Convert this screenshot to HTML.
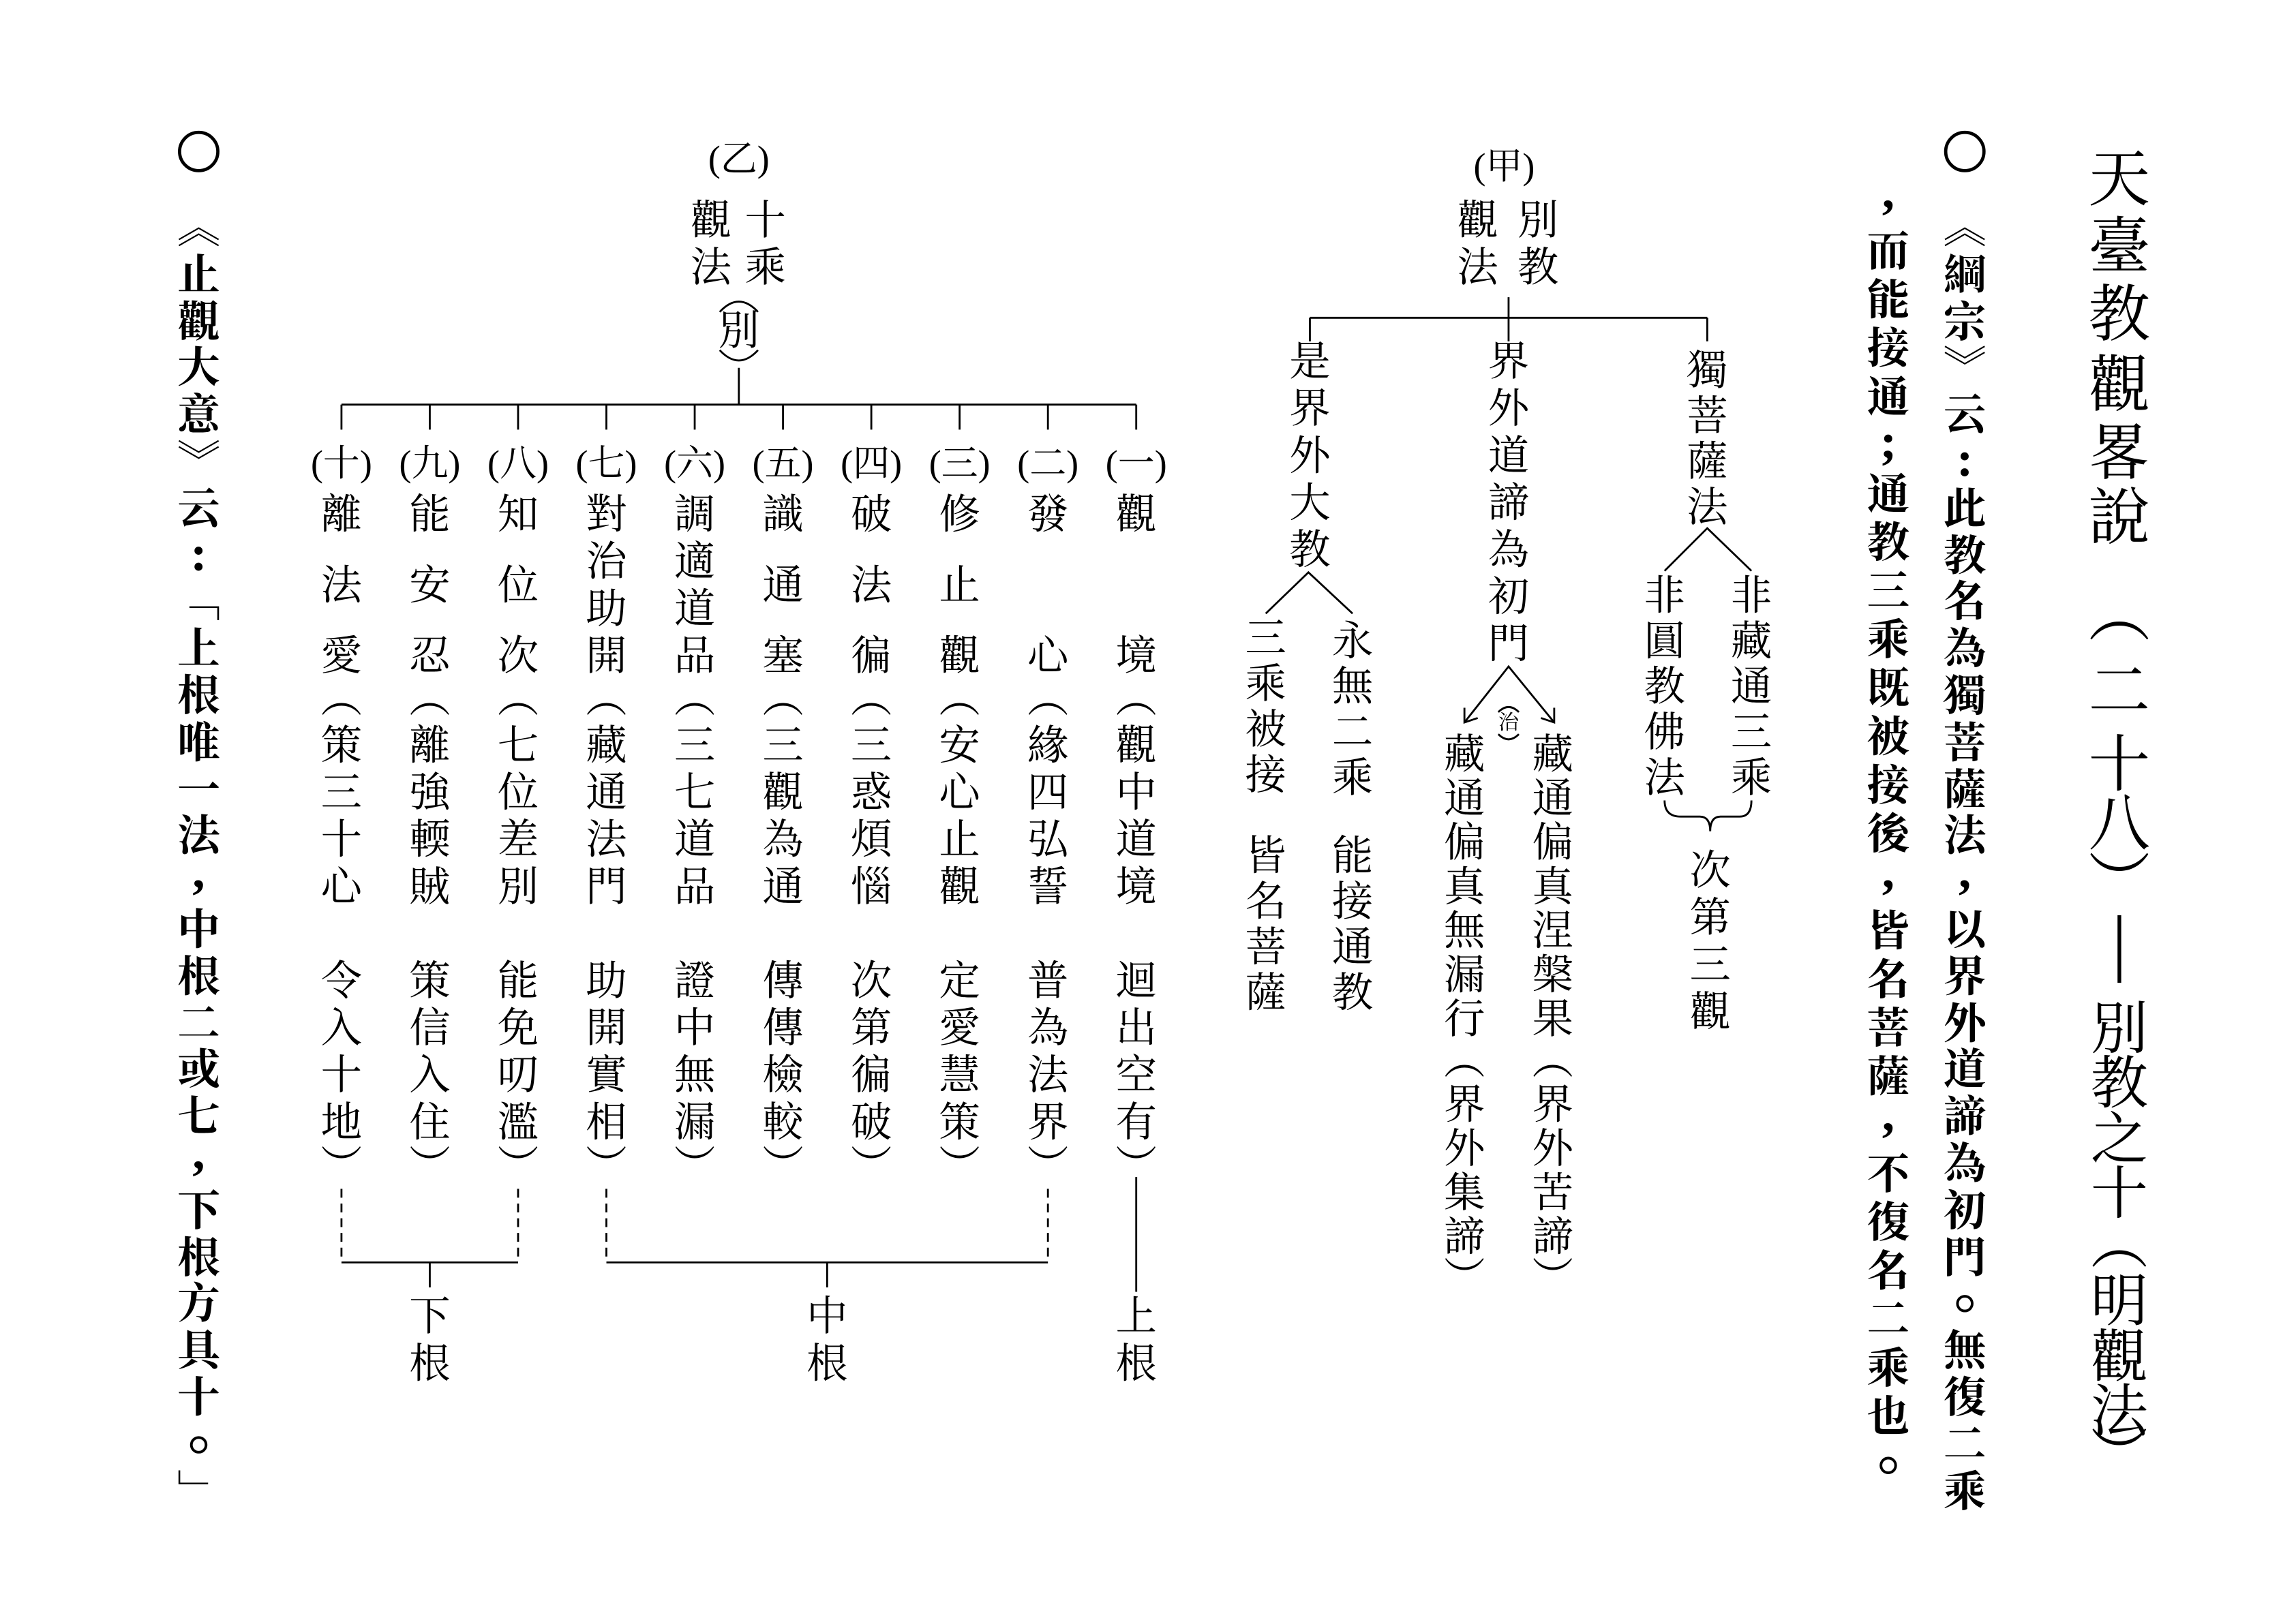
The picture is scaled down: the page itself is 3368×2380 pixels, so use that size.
<!DOCTYPE html>
<html><head><meta charset="utf-8"><style>
html,body{margin:0;padding:0;background:#fff;}
svg{display:block;}
text{font-family:"Liberation Serif","Noto Serif CJK SC","Noto Serif CJK TC",serif;text-anchor:middle;dominant-baseline:central;fill:#000;}
.t{font-size:42px;}
.t2{font-size:39px;}
.b{font-size:29px;font-weight:bold;font-family:"Liberation Serif","Noto Serif CJK SC",serif;}
.p{font-size:34px;font-weight:bold;font-family:"Liberation Serif",serif;}
.c{font-size:28px;}
.l{font-size:25px;}
.s{font-size:14px;}
line,path{stroke:#000;stroke-width:1.3;fill:none;}
.dot{fill:none;stroke:#000;stroke-width:1.8;}
</style></head><body>
<svg width="3368" height="2380" viewBox="0 0 1560 1102.4" xmlns="http://www.w3.org/2000/svg">
<rect width="1560" height="1102.4" fill="#fff" stroke="none"/>
<!-- Title -->
<g class="t">
<text x="1440" y="122">天</text><text x="1440" y="168">臺</text><text x="1440" y="214">教</text><text x="1440" y="262">觀</text><text x="1440" y="308">畧</text><text x="1440" y="352">說</text>
<text x="1440" y="418">︵</text><text x="1440" y="470">二</text><text x="1440" y="520">十</text><text x="1440" y="560">八</text><text x="1440" y="600">︶</text>
</g>
<g class="t2">
<text x="1440" y="700">別</text><text x="1440" y="737">教</text><text x="1440" y="775">之</text><text x="1440" y="812">十</text>
<text x="1440" y="846">︵</text><text x="1440" y="885">明</text><text x="1440" y="923">觀</text><text x="1440" y="960">法</text><text x="1440" y="990">︶</text>
</g>
<line x1="1440" y1="622" x2="1440" y2="668" style="stroke-width:2.5"/>
<!-- bold col 1 -->
<circle cx="1335" cy="103" r="13" fill="none" stroke="#000" stroke-width="2.2"/>
<g class="b">
<text x="1335" y="155">︽</text><text x="1335" y="187">綱</text><text x="1335" y="219">宗</text><text x="1335" y="250">︾</text><text x="1335" y="282">云</text><text x="1335" y="346">此</text><text x="1335" y="378">教</text><text x="1335" y="409">名</text><text x="1335" y="441">為</text><text x="1335" y="473">獨</text><text x="1335" y="505">菩</text><text x="1335" y="537">薩</text><text x="1335" y="568">法</text><text x="1335" y="632">以</text><text x="1335" y="664">界</text><text x="1335" y="696">外</text><text x="1335" y="727">道</text><text x="1335" y="759">諦</text><text x="1335" y="791">為</text><text x="1335" y="823">初</text><text x="1335" y="855">門</text><text x="1335" y="918">無</text><text x="1335" y="950">復</text><text x="1335" y="982">二</text><text x="1335" y="1014">乘</text>
</g>
<g class="p">
<text x="1335" y="312">:</text><text x="1335" y="592">,</text>
</g>
<circle class="dot" cx="1335" cy="886" r="5"/>
<!-- bold col 2 -->
<g class="b">
<text x="1283" y="171">而</text><text x="1283" y="204">能</text><text x="1283" y="237">接</text><text x="1283" y="270">通</text><text x="1283" y="336">通</text><text x="1283" y="369">教</text><text x="1283" y="402">三</text><text x="1283" y="435">乘</text><text x="1283" y="468">既</text><text x="1283" y="501">被</text><text x="1283" y="534">接</text><text x="1283" y="567">後</text><text x="1283" y="633">皆</text><text x="1283" y="666">名</text><text x="1283" y="699">菩</text><text x="1283" y="732">薩</text><text x="1283" y="798">不</text><text x="1283" y="831">復</text><text x="1283" y="864">名</text><text x="1283" y="897">二</text><text x="1283" y="930">乘</text><text x="1283" y="963">也</text>
</g>
<g class="p">
<text x="1283" y="130">,</text><text x="1283" y="300">;</text><text x="1283" y="592">,</text><text x="1283" y="757">,</text>
</g>
<circle class="dot" cx="1283" cy="996" r="5"/>
<!-- left bold col -->
<circle cx="135" cy="103" r="13" fill="none" stroke="#000" stroke-width="2.2"/>
<g class="b">
<text x="135" y="155">︽</text><text x="135" y="187">止</text><text x="135" y="219">觀</text><text x="135" y="250">大</text><text x="135" y="282">意</text><text x="135" y="314">︾</text><text x="135" y="346">云</text><text x="135" y="409">﹁</text><text x="135" y="441">上</text><text x="135" y="473">根</text><text x="135" y="505">唯</text><text x="135" y="537">一</text><text x="135" y="568">法</text><text x="135" y="632">中</text><text x="135" y="664">根</text><text x="135" y="696">二</text><text x="135" y="727">或</text><text x="135" y="759">七</text><text x="135" y="823">下</text><text x="135" y="855">根</text><text x="135" y="886">方</text><text x="135" y="918">具</text><text x="135" y="950">十</text><text x="135" y="1014">﹂</text>
</g>
<g class="p">
<text x="135" y="376">:</text><text x="135" y="592">,</text><text x="135" y="783">,</text>
</g>
<circle class="dot" cx="135" cy="982" r="5"/>
<!-- Chart 甲 -->
<g class="c">
<text x="1022" y="113" class="l">(甲)</text>
<text x="1045" y="150">別</text><text x="1045" y="182">教</text>
<text x="1004" y="150">觀</text><text x="1004" y="182">法</text>
<text x="1160" y="252">獨</text><text x="1160" y="283">菩</text><text x="1160" y="314">薩</text><text x="1160" y="345">法</text>
<text x="1190" y="405">非</text><text x="1190" y="436">藏</text><text x="1190" y="467">通</text><text x="1190" y="498">三</text><text x="1190" y="529">乘</text>
<text x="1131" y="405">非</text><text x="1131" y="436">圓</text><text x="1131" y="467">教</text><text x="1131" y="498">佛</text><text x="1131" y="529">法</text>
<text x="1162" y="592">次</text><text x="1162" y="624">第</text><text x="1162" y="656">三</text><text x="1162" y="688">觀</text>
<text x="1025" y="246">界</text><text x="1025" y="278">外</text><text x="1025" y="310">道</text><text x="1025" y="342">諦</text><text x="1025" y="374">為</text><text x="1025" y="406">初</text><text x="1025" y="438">門</text>
<text x="1055" y="513">藏</text><text x="1055" y="543">通</text><text x="1055" y="573">偏</text><text x="1055" y="603">真</text><text x="1055" y="633">涅</text><text x="1055" y="663">槃</text><text x="1055" y="693">果</text><text x="1055" y="721">︵</text><text x="1055" y="751">界</text><text x="1055" y="781">外</text><text x="1055" y="811">苦</text><text x="1055" y="841">諦</text><text x="1055" y="869">︶</text>
<text x="995" y="513">藏</text><text x="995" y="543">通</text><text x="995" y="573">偏</text><text x="995" y="603">真</text><text x="995" y="633">無</text><text x="995" y="663">漏</text><text x="995" y="693">行</text><text x="995" y="721">︵</text><text x="995" y="751">界</text><text x="995" y="781">外</text><text x="995" y="811">集</text><text x="995" y="841">諦</text><text x="995" y="869">︶</text>
<text x="890" y="246">是</text><text x="890" y="278">界</text><text x="890" y="310">外</text><text x="890" y="342">大</text><text x="890" y="374">教</text>
<text x="919" y="436">永</text><text x="919" y="467">無</text><text x="919" y="498">二</text><text x="919" y="529">乘</text><text x="919" y="582">能</text><text x="919" y="613">接</text><text x="919" y="644">通</text><text x="919" y="675">教</text>
<text x="860" y="434">三</text><text x="860" y="465">乘</text><text x="860" y="496">被</text><text x="860" y="527">接</text><text x="860" y="582">皆</text><text x="860" y="613">名</text><text x="860" y="644">菩</text><text x="860" y="675">薩</text>
</g>
<text x="1025" y="491" class="s">治</text>
<path d="M1018,484 Q1025,477 1032,484"/><path d="M1018,499 Q1025,506 1032,499"/>
<line x1="1025" y1="202" x2="1025" y2="232"/>
<line x1="890" y1="216" x2="1160" y2="216"/>
<line x1="890" y1="216" x2="890" y2="232"/><line x1="1160" y1="216" x2="1160" y2="232"/>
<path d="M1131,388 L1160,359 L1190,388"/>
<path d="M1131,544 Q1131,555 1142,555 L1155,555 Q1162,555 1162,565 Q1162,555 1169,555 L1182,555 Q1190,555 1190,544"/>
<path d="M995,491 L1025,453 L1056,491"/>
<path d="M995,481 L995,491 L1004,488"/><path d="M1056,481 L1056,491 L1047,488"/>
<path d="M860,417 L889,389 L919,417"/>
<!-- Chart 乙 -->
<g class="c">
<text x="502" y="108" class="l">(乙)</text>
<text x="520" y="150">十</text><text x="520" y="182">乘</text>
<text x="483" y="150">觀</text><text x="483" y="182">法</text>
<text x="502" y="225">別</text>
</g>
<path d="M489,212 Q502,198 515,212"/><path d="M489,238 Q502,252 515,238"/>
<line x1="502" y1="250" x2="502" y2="275"/>
<line x1="232" y1="275" x2="772" y2="275"/>
<g>
<line x1="232" y1="275" x2="232" y2="292"/><line x1="292" y1="275" x2="292" y2="292"/><line x1="352" y1="275" x2="352" y2="292"/><line x1="412" y1="275" x2="412" y2="292"/><line x1="472" y1="275" x2="472" y2="292"/><line x1="532" y1="275" x2="532" y2="292"/><line x1="592" y1="275" x2="592" y2="292"/><line x1="652" y1="275" x2="652" y2="292"/><line x1="712" y1="275" x2="712" y2="292"/><line x1="772" y1="275" x2="772" y2="292"/>
</g>
<g class="l">
<text x="772" y="315">(一)</text><text x="712" y="315">(二)</text><text x="652" y="315">(三)</text><text x="592" y="315">(四)</text><text x="532" y="315">(五)</text><text x="472" y="315">(六)</text><text x="412" y="315">(七)</text><text x="352" y="315">(八)</text><text x="292" y="315">(九)</text><text x="232" y="315">(十)</text>
</g>
<g class="c">
<text x="772" y="350">觀</text><text x="772" y="446">境</text>
<text x="772" y="475">︵</text><text x="772" y="507">觀</text><text x="772" y="539">中</text><text x="772" y="571">道</text><text x="772" y="603">境</text><text x="772" y="667">迴</text><text x="772" y="699">出</text><text x="772" y="731">空</text><text x="772" y="763">有</text><text x="772" y="793">︶</text>
<text x="712" y="350">發</text><text x="712" y="446">心</text>
<text x="712" y="475">︵</text><text x="712" y="507">緣</text><text x="712" y="539">四</text><text x="712" y="571">弘</text><text x="712" y="603">誓</text><text x="712" y="667">普</text><text x="712" y="699">為</text><text x="712" y="731">法</text><text x="712" y="763">界</text><text x="712" y="793">︶</text>
<text x="652" y="350">修</text><text x="652" y="398">止</text><text x="652" y="446">觀</text>
<text x="652" y="475">︵</text><text x="652" y="507">安</text><text x="652" y="539">心</text><text x="652" y="571">止</text><text x="652" y="603">觀</text><text x="652" y="667">定</text><text x="652" y="699">愛</text><text x="652" y="731">慧</text><text x="652" y="763">策</text><text x="652" y="793">︶</text>
<text x="592" y="350">破</text><text x="592" y="398">法</text><text x="592" y="446">徧</text>
<text x="592" y="475">︵</text><text x="592" y="507">三</text><text x="592" y="539">惑</text><text x="592" y="571">煩</text><text x="592" y="603">惱</text><text x="592" y="667">次</text><text x="592" y="699">第</text><text x="592" y="731">徧</text><text x="592" y="763">破</text><text x="592" y="793">︶</text>
<text x="532" y="350">識</text><text x="532" y="398">通</text><text x="532" y="446">塞</text>
<text x="532" y="475">︵</text><text x="532" y="507">三</text><text x="532" y="539">觀</text><text x="532" y="571">為</text><text x="532" y="603">通</text><text x="532" y="667">傳</text><text x="532" y="699">傳</text><text x="532" y="731">檢</text><text x="532" y="763">較</text><text x="532" y="793">︶</text>
<text x="472" y="350">調</text><text x="472" y="382">適</text><text x="472" y="414">道</text><text x="472" y="446">品</text>
<text x="472" y="475">︵</text><text x="472" y="507">三</text><text x="472" y="539">七</text><text x="472" y="571">道</text><text x="472" y="603">品</text><text x="472" y="667">證</text><text x="472" y="699">中</text><text x="472" y="731">無</text><text x="472" y="763">漏</text><text x="472" y="793">︶</text>
<text x="412" y="350">對</text><text x="412" y="382">治</text><text x="412" y="414">助</text><text x="412" y="446">開</text>
<text x="412" y="475">︵</text><text x="412" y="507">藏</text><text x="412" y="539">通</text><text x="412" y="571">法</text><text x="412" y="603">門</text><text x="412" y="667">助</text><text x="412" y="699">開</text><text x="412" y="731">實</text><text x="412" y="763">相</text><text x="412" y="793">︶</text>
<text x="352" y="350">知</text><text x="352" y="398">位</text><text x="352" y="446">次</text>
<text x="352" y="475">︵</text><text x="352" y="507">七</text><text x="352" y="539">位</text><text x="352" y="571">差</text><text x="352" y="603">別</text><text x="352" y="667">能</text><text x="352" y="699">免</text><text x="352" y="731">叨</text><text x="352" y="763">濫</text><text x="352" y="793">︶</text>
<text x="292" y="350">能</text><text x="292" y="398">安</text><text x="292" y="446">忍</text>
<text x="292" y="475">︵</text><text x="292" y="507">離</text><text x="292" y="539">強</text><text x="292" y="571">輭</text><text x="292" y="603">賊</text><text x="292" y="667">策</text><text x="292" y="699">信</text><text x="292" y="731">入</text><text x="292" y="763">住</text><text x="292" y="793">︶</text>
<text x="232" y="350">離</text><text x="232" y="398">法</text><text x="232" y="446">愛</text>
<text x="232" y="475">︵</text><text x="232" y="507">策</text><text x="232" y="539">三</text><text x="232" y="571">十</text><text x="232" y="603">心</text><text x="232" y="667">令</text><text x="232" y="699">入</text><text x="232" y="731">十</text><text x="232" y="763">地</text><text x="232" y="793">︶</text>
<text x="772" y="895">上</text><text x="772" y="927">根</text>
<text x="562" y="895">中</text><text x="562" y="927">根</text>
<text x="292" y="895">下</text><text x="292" y="927">根</text>
</g>
<line x1="772" y1="800" x2="772" y2="878"/>
<g style="stroke-dasharray:6,4">
<line x1="712" y1="808" x2="712" y2="858"/><line x1="412" y1="808" x2="412" y2="858"/>
<line x1="352" y1="808" x2="352" y2="858"/><line x1="232" y1="808" x2="232" y2="858"/>
</g>
<line x1="412" y1="858" x2="712" y2="858"/><line x1="562" y1="858" x2="562" y2="875"/>
<line x1="232" y1="858" x2="352" y2="858"/><line x1="292" y1="858" x2="292" y2="875"/>
</svg>
</body></html>
